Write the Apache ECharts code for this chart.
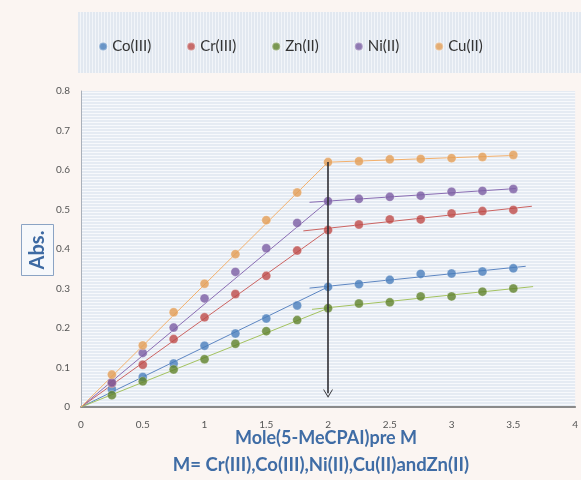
<!DOCTYPE html>
<html>
<head>
<meta charset="utf-8">
<script src="https://cdn.jsdelivr.net/npm/echarts@6/dist/echarts.min.js"></script>
<style>
  html, body { margin: 0; padding: 0; background: #fbf5f2; }
  #chart { width: 581px; height: 480px; }
</style>
</head>
<body>
<div id="chart"></div>
<script>
// Mole ratio of ligand per metal ion (x) and absorbance readings (y)
const moleRatio = [0.25, 0.5, 0.75, 1.0, 1.25, 1.5, 1.75, 2.0, 2.25, 2.5, 2.75, 3.0, 3.25, 3.5];

const seriesNames = ['Co(III)', 'Cr(III)', 'Zn(II)', 'Ni(II)', 'Cu(II)'];

const absCo = [0.045, 0.076, 0.110, 0.155, 0.186, 0.224, 0.257, 0.304, 0.311, 0.322, 0.337, 0.338, 0.343, 0.351];
const absCr = [0.060, 0.107, 0.172, 0.227, 0.286, 0.332, 0.396, 0.448, 0.462, 0.475, 0.475, 0.490, 0.496, 0.499];
const absZn = [0.030, 0.065, 0.095, 0.121, 0.160, 0.192, 0.220, 0.250, 0.262, 0.265, 0.280, 0.280, 0.292, 0.300];
const absNi = [0.062, 0.137, 0.201, 0.275, 0.342, 0.402, 0.466, 0.521, 0.527, 0.532, 0.535, 0.545, 0.547, 0.552];
const absCu = [0.082, 0.156, 0.240, 0.312, 0.387, 0.473, 0.543, 0.620, 0.622, 0.627, 0.628, 0.630, 0.633, 0.638];

// Ratio at which the complex saturates (break point of each curve)
const breakRatio = 2.0;
// Extent of the fitted plateau line for each metal
const plateauFrom = [1.85, 1.80, 1.87, 1.85, 2.0];
const plateauTo   = [3.60, 3.65, 3.66, 3.52, 3.5];

const xTicks = [0, 0.5, 1, 1.5, 2, 2.5, 3, 3.5, 4];
const yTicks = [0, 0.1, 0.2, 0.3, 0.4, 0.5, 0.6, 0.7, 0.8];

const allAbs = [absCo, absCr, absZn, absNi, absCu];
const markerColors = ['#4a7ebb', '#be4b48', '#5f822b', '#7a5ca3', '#e49d55'];
const lineColors   = ['#5d86c2', '#cc6462', '#a3c25f', '#8a6db3', '#f3b06c'];

const FONT = 'Lato, "Open Sans", sans-serif';

// Least-squares line through the points at or beyond the break point
function fitPlateau(values) {
  const xs = [], ys = [];
  moleRatio.forEach((x, i) => { if (x >= breakRatio) { xs.push(x); ys.push(values[i]); } });
  const n = xs.length;
  const mx = xs.reduce((a, b) => a + b, 0) / n;
  const my = ys.reduce((a, b) => a + b, 0) / n;
  let sxy = 0, sxx = 0;
  for (let i = 0; i < n; i++) { sxy += (xs[i] - mx) * (ys[i] - my); sxx += (xs[i] - mx) ** 2; }
  const slope = sxy / sxx;
  return x => my + slope * (x - mx);
}

function stripes(w, h, horizontal, c1, c2) {
  const cv = document.createElement('canvas');
  cv.width = w; cv.height = h;
  const ctx = cv.getContext('2d');
  ctx.fillStyle = c1; ctx.fillRect(0, 0, w, h);
  ctx.fillStyle = c2;
  if (horizontal) ctx.fillRect(0, 0, w, Math.ceil(h / 2));
  else ctx.fillRect(0, 0, Math.ceil(w / 2), h);
  return cv;
}

const series = [];
allAbs.forEach((vals, k) => {
  const breakIdx = moleRatio.indexOf(breakRatio);
  // rising part: from origin to the break point
  series.push({
    type: 'line', silent: true, symbol: 'none', z: 2,
    data: [[0, 0], [breakRatio, vals[breakIdx]]],
    lineStyle: { color: lineColors[k], width: 1 }
  });
  // plateau fit
  const f = fitPlateau(vals);
  series.push({
    type: 'line', silent: true, symbol: 'none', z: 2,
    data: [[plateauFrom[k], f(plateauFrom[k])], [plateauTo[k], f(plateauTo[k])]],
    lineStyle: { color: lineColors[k], width: 1 }
  });
});

allAbs.forEach((vals, k) => {
  series.push({
    name: seriesNames[k], type: 'scatter', z: 4,
    symbol: 'circle', symbolSize: 9,
    data: moleRatio.map((x, i) => [x, vals[i]]),
    itemStyle: { color: markerColors[k], borderColor: 'rgba(255,255,255,0.35)', borderWidth: 1 }
  });
});

// Vertical arrow marking the break point at ratio 2
series.push({
  type: 'line', silent: true, symbol: 'none', data: [], z: 5,
  markLine: {
    silent: true, animation: false,
    symbol: ['none', 'path://M0,8 L5,1 L10,8 L10,6.4 L5,-0.6 L0,6.4 Z'],
    symbolSize: [9, 9],
    label: { show: false },
    lineStyle: { color: '#2e2e33', width: 1.6, type: 'solid' },
    data: [[{ coord: [breakRatio, absCu[moleRatio.indexOf(breakRatio)]] }, { coord: [breakRatio, 0.035] }]]
  }
});

const chart = echarts.init(document.getElementById('chart'), null, { renderer: 'canvas' });
chart.setOption({
  animation: false,
  backgroundColor: '#fbf5f2',
  textStyle: { fontFamily: FONT },
  graphic: [
    {
      type: 'rect', z: -10,
      shape: { x: 78, y: 12, width: 503, height: 61 },
      style: { fill: { image: stripes(3, 3, false, '#f2f5f9', '#e2e8f0'), repeat: 'repeat' } }
    },
    {
      type: 'rect', z: 10,
      shape: { x: 21.5, y: 224.5, width: 32, height: 51 },
      style: { fill: '#f6f8fb', stroke: '#8aa3c4', lineWidth: 1 }
    },
    {
      type: 'text', z: 11, x: 38, y: 250, rotation: Math.PI / 2,
      style: {
        text: 'Abs.', fill: '#3d6aa3', font: 'bold 20px ' + FONT,
        align: 'center', verticalAlign: 'middle'
      }
    },
    {
      type: 'text', z: 11, x: 326, y: 438,
      style: {
        text: 'Mole(5-MeCPAI)pre M', fill: '#3f6ca5', font: 'bold 18px ' + FONT,
        align: 'center', verticalAlign: 'middle'
      }
    },
    {
      type: 'text', z: 11, x: 321, y: 465,
      style: {
        text: 'M= Cr(III),Co(III),Ni(II),Cu(II)andZn(II)', fill: '#3f6ca5', font: 'bold 18.5px ' + FONT,
        align: 'center', verticalAlign: 'middle'
      }
    }
  ],
  legend: {
    data: seriesNames,
    top: 34, left: 'center',
    icon: 'circle', itemWidth: 8, itemHeight: 8, itemGap: 35,
    textStyle: { fontSize: 15, color: '#333', fontFamily: FONT }
  },
  grid: {
    left: 81, right: 4, top: 91, bottom: 73,
    show: true, borderWidth: 0,
    backgroundColor: { image: stripes(4, 3, true, '#f7f9fc', '#e5ebf3'), repeat: 'repeat' }
  },
  xAxis: {
    type: 'value', min: xTicks[0], max: xTicks[xTicks.length - 1], interval: 0.5,
    axisLine: { lineStyle: { color: '#8a8a8a', width: 2 } },
    axisTick: { show: false },
    splitLine: { show: false },
    axisLabel: { color: '#555', fontSize: 10, margin: 13, fontFamily: FONT }
  },
  yAxis: {
    type: 'value', min: yTicks[0], max: yTicks[yTicks.length - 1], interval: 0.1,
    axisLine: { show: true, lineStyle: { color: '#a9b0ba', width: 1 } },
    axisTick: { show: false },
    splitLine: { show: false },
    axisLabel: { color: '#555', fontSize: 10, margin: 11, fontFamily: FONT }
  },
  series: series
});
</script>
</body>
</html>
